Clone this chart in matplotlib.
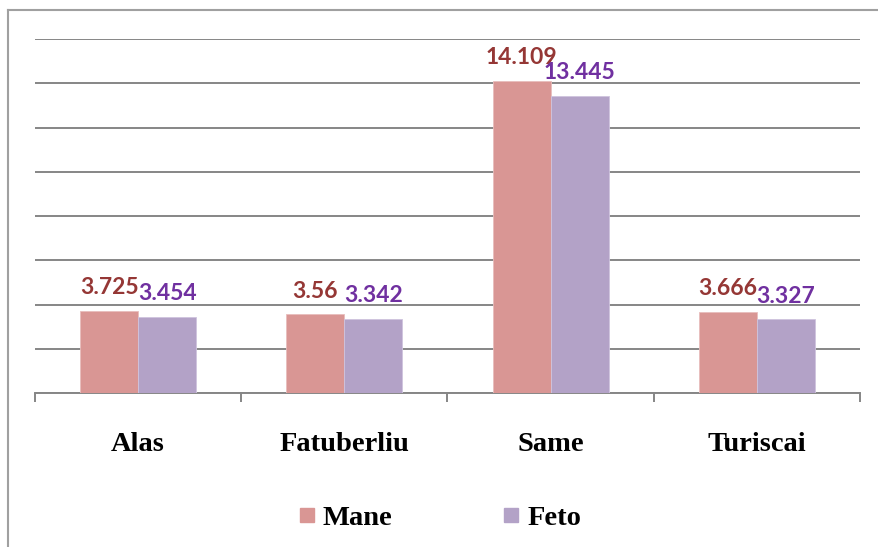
import matplotlib.pyplot as plt
from matplotlib.lines import Line2D
import numpy as np

categories = ['Alas', 'Fatuberliu', 'Same', 'Turiscai']
mane = [3.725, 3.56, 14.109, 3.666]
feto = [3.454, 3.342, 13.445, 3.327]
mane_labels = ['3.725', '3.56', '14.109', '3.666']
feto_labels = ['3.454', '3.342', '13.445', '3.327']

mane_color = '#D99694'
feto_color = '#B3A2C7'
grid_color = '#868686'

fig = plt.figure(figsize=(8.79, 5.47), dpi=100)
ax = fig.add_axes([35/879, 1-393/547, (860-35)/879, (393-39)/547])

x = np.arange(len(categories))
w = 0.2816
b1 = ax.bar(x - w/2, mane, w, color=mane_color, edgecolor='#E8BDBC', linewidth=0.6, zorder=3)
b2 = ax.bar(x + w/2, feto, w, color=feto_color, edgecolor='#CFC4DE', linewidth=0.6, zorder=3)

# value labels above the bars
for xi, v, s in zip(x - w/2, mane, mane_labels):
    ax.annotate(s, (xi, v), xytext=(0, 12), textcoords='offset points',
                ha='center', va='baseline', fontsize=16.5, fontweight='bold',
                family='Lato', color='#953735', zorder=4)
for xi, v, s in zip(x + w/2, feto, feto_labels):
    ax.annotate(s, (xi, v), xytext=(0, 12), textcoords='offset points',
                ha='center', va='baseline', fontsize=16.5, fontweight='bold',
                family='Lato', color='#7030A0', zorder=4)

ax.set_xlim(-0.5, 3.5)
ax.set_ylim(0, 16)
ax.set_yticks(np.arange(0, 17, 2))
ax.yaxis.grid(True, color=grid_color, linewidth=1.4)
ax.tick_params(axis='y', left=False, labelleft=False)
for s in ['left', 'right', 'top']:
    ax.spines[s].set_visible(False)
ax.spines['bottom'].set_color(grid_color)
ax.spines['bottom'].set_linewidth(1.4)

ax.set_xticks(x)
ax.set_xticklabels(categories, fontsize=20.5, fontweight='bold', family='Liberation Serif')
ax.tick_params(axis='x', which='major', length=0, pad=28)
ax.set_xticks(np.arange(-0.5, 4, 1), minor=True)
ax.tick_params(axis='x', which='minor', length=6.5, width=1.4, color=grid_color, direction='out')

# legend
handles = [Line2D([], [], marker='s', linestyle='none', markersize=10, color=mane_color),
           Line2D([], [], marker='s', linestyle='none', markersize=10, color=feto_color)]
fig.legend(handles, ['Mane', 'Feto'], loc='center', bbox_to_anchor=(0.5, 1-518/547),
           ncol=2, frameon=False, handlelength=0.6, handletextpad=0.25,
           columnspacing=3.9, prop={'family': 'Liberation Serif', 'weight': 'bold', 'size': 20.5})

# outer chart border (cropped on right and bottom)
fig.add_artist(Line2D([8/879, 1.0], [1-10/547, 1-10/547], color='#A0A0A0', linewidth=1.5))
fig.add_artist(Line2D([8/879, 8/879], [0.0, 1-10/547], color='#A0A0A0', linewidth=1.5))

fig.savefig('out.png', dpi=100)
